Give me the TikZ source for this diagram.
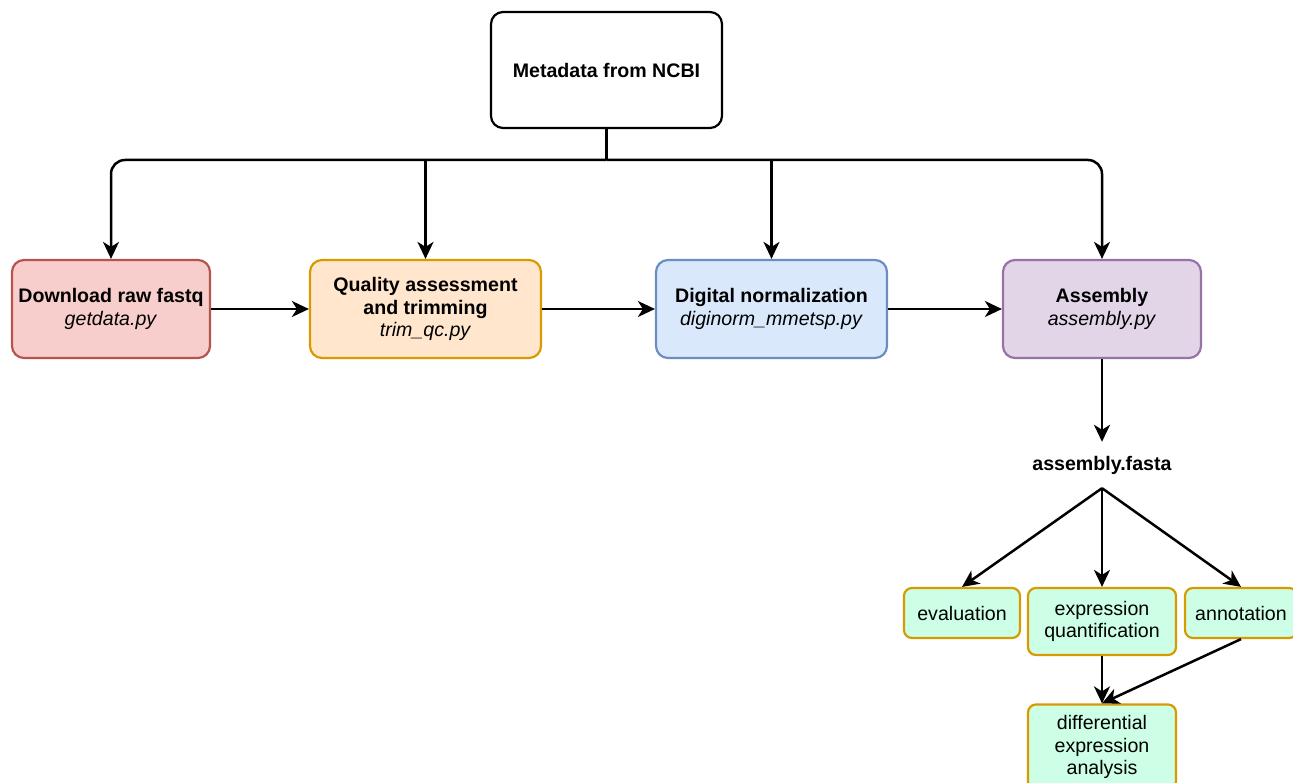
\documentclass[tikz,border=0pt]{standalone}
\usepackage{fontspec}
\setmainfont{Liberation Sans}
\usepackage{tikz}
\usetikzlibrary{arrows.meta,positioning}

\definecolor{dlfill}{HTML}{F8CECC}
\definecolor{dlline}{HTML}{B85450}
\definecolor{qcfill}{HTML}{FFE6CC}
\definecolor{qcline}{HTML}{D79B00}
\definecolor{dnfill}{HTML}{DAE8FC}
\definecolor{dnline}{HTML}{6C8EBF}
\definecolor{asmfill}{HTML}{E1D5E7}
\definecolor{asmline}{HTML}{9673A6}
\definecolor{mintfill}{HTML}{CCFFE6}

\begin{document}
\begin{tikzpicture}[x=1pt,
            y=-1pt,
            >={Stealth[length=17pt,width=16pt,inset=5pt]},
            font=\fontsize{19.6}{22.5}\selectfont,
            stagebox/.style={draw, rounded corners=12pt, line width=2.2pt,
                             align=center, minimum height=98pt, inner sep=2pt},
            toolbox/.style={draw=qcline, fill=mintfill, rounded corners=8pt,
                            line width=2.2pt, align=center, inner sep=2pt},
            link/.style={line width=2.5pt},
            arr/.style={->, line width=2.5pt}]

        \useasboundingbox (0,0) rectangle (1293,783);

        % main pipeline
        \node[stagebox, minimum width=231pt, minimum height=116pt]
              (meta) at (606.5,70) {\textbf{Metadata from NCBI}};
        \node[stagebox, draw=dlline, fill=dlfill, minimum width=198pt]
              (dl) at (111,309) {\textbf{Download raw fastq}\\\textit{getdata.py}};
        \node[stagebox, draw=qcline, fill=qcfill, minimum width=231pt]
              (qc) at (425.5,309) {\textbf{Quality assessment}\\\textbf{and trimming}\\\textit{trim\_qc.py}};
        \node[stagebox, draw=dnline, fill=dnfill, minimum width=231pt]
              (dn) at (771.5,309) {\textbf{Digital normalization}\\\textit{diginorm\_mmetsp.py}};
        \node[stagebox, draw=asmline, fill=asmfill, minimum width=198pt]
              (asm) at (1102,309) {\textbf{Assembly}\\\textit{assembly.py}};

        \node[inner sep=0pt, minimum height=46pt]
              (fasta) at (1102,465) {\textbf{assembly.fasta}};

        % downstream steps
        \node[toolbox, minimum width=116pt, minimum height=50pt]
              (eval) at (962,613) {evaluation};
        \node[toolbox, minimum width=148pt, minimum height=67pt]
              (quant) at (1102,621.5) {expression\\quantification};
        \node[toolbox, minimum width=112pt, minimum height=50pt]
              (annot) at (1241,613) {annotation};
        \node[toolbox, minimum width=148pt, minimum height=85pt]
              (diffex) at (1102,747) {differential\\expression\\analysis};

        \coordinate (split) at (606.5,160);

        \draw[link] (meta.south) -- (split);
        \draw[arr, rounded corners=14pt] (split) -| (dl.north);
        \draw[arr, rounded corners=14pt] (split) -| (asm.north);
        \draw[arr] (split -| qc.north) -- (qc.north);
        \draw[arr] (split -| dn.north) -- (dn.north);

        \draw[arr] (dl) -- (qc);
        \draw[arr] (qc) -- (dn);
        \draw[arr] (dn) -- (asm);
        \draw[arr] (asm) -- (fasta);

        \draw[arr] (fasta.south) -- (eval.north);
        \draw[arr] (fasta.south) -- (quant.north);
        \draw[arr] (fasta.south) -- (annot.north);
        \draw[arr] (quant) -- (diffex);
        \draw[arr] (annot.south) -- (diffex.north);

    \end{tikzpicture}
\end{document}
